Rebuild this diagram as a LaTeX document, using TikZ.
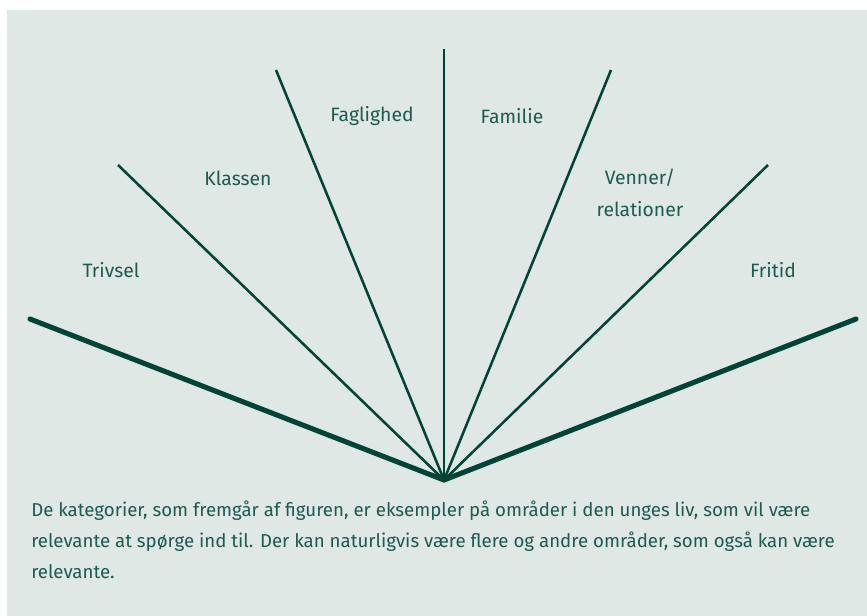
\documentclass[tikz,border=0pt]{standalone}
\usepackage{fontspec}
\setmainfont{Fira Sans}
\usepackage{tikz}
\usepackage{xcolor}
\usetikzlibrary{positioning,calc}
\definecolor{panel}{HTML}{DFE8E5}
\definecolor{ray}{HTML}{004438}
\definecolor{labeltxt}{HTML}{1D5A50}
\tikzset{
  mainray/.style={draw=ray,line width=3.8pt,line cap=round},
  thinray/.style={draw=ray,line width=1.9pt},
  catlabel/.style={text=labeltxt,font=\fontsize{14.5}{24}\selectfont,
                   align=center,inner sep=0pt},
  caption/.style={text=labeltxt,font=\fontsize{14}{23}\selectfont,
                  align=left,anchor=north west,inner sep=0pt}
}

\begin{document}
\begin{tikzpicture}[x=0.75pt,y=-0.75pt]
    \path[use as bounding box] (0,0) rectangle (867,616);
    \fill[panel] (7,10) rectangle (867,616);

    % fan of category rays
    \coordinate (apex) at (444,480);
    \coordinate (endL) at (30,319);
    \coordinate (endR) at (856,319);
    \coordinate (rayA) at (118,165);
    \coordinate (rayB) at (276,70);
    \coordinate (rayC) at (444,49);
    \coordinate (rayD) at (611,70);
    \coordinate (rayE) at (768,165);
    \draw[mainray] (endL) -- (apex) -- (endR);
    \foreach \r in {rayA,rayB,rayC,rayD,rayE}
      \draw[thinray] (apex) -- (\r);

    \node[catlabel] (trivsel) at (111,270) {Trivsel};
    \node[catlabel] (klassen) at (238,178) {Klassen};
    \node[catlabel] (faglig) at (372,116) {Faglighed};
    \node[catlabel] (familie) at (512,116) {Familie};
    \node[catlabel] (venner) at (640,193) {Venner/\\relationer};
    \node[catlabel] (fritid) at (773,270) {Fritid};

    \node[caption] (note) at (31,501)
      {De kategorier, som fremgår af figuren, er eksempler på områder i den unges liv, som vil være\\
       relevante at spørge ind til. Der kan naturligvis være flere og andre områder, som også kan være\\
       relevante.};
  \end{tikzpicture}
\end{document}
